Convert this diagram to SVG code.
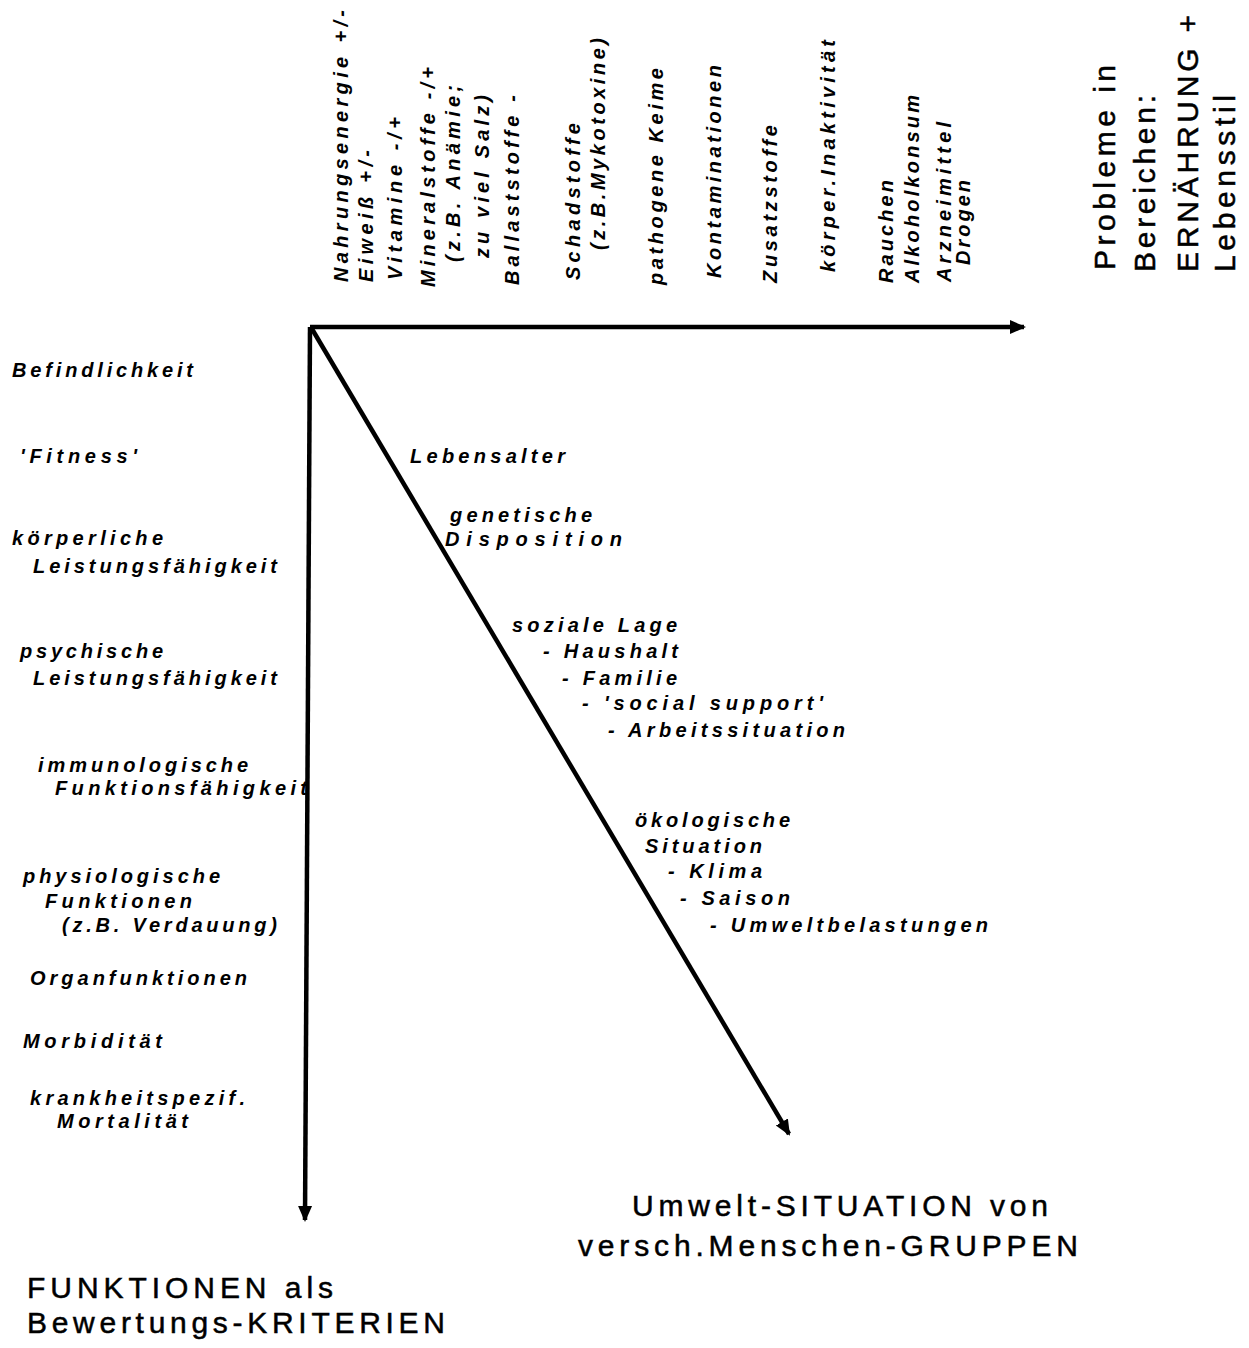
<svg xmlns="http://www.w3.org/2000/svg" width="1249" height="1348" viewBox="0 0 1249 1348">
<style>
.lab{font-family:"Liberation Sans",Arial,sans-serif;font-size:20px;font-weight:bold;font-style:italic;fill:#000}
.big{font-family:"Liberation Sans",Arial,sans-serif;font-size:30px;fill:#000;stroke:#000;stroke-width:0.5}
.ax{stroke:#000;stroke-width:4.5;fill:none}
</style>
<defs>
<marker id="ah" markerUnits="userSpaceOnUse" markerWidth="18" markerHeight="16" refX="14" refY="8" orient="auto">
<path d="M0,1 L16,8 L0,15 Z" fill="#000"/>
</marker>
</defs>
<rect width="1249" height="1348" fill="#fff"/>
<g id="connectors">
<line class="ax" x1="310" y1="327" x2="1024" y2="327" marker-end="url(#ah)"/>
<line class="ax" x1="310" y1="327" x2="305" y2="1220" marker-end="url(#ah)"/>
<line class="ax" x1="312" y1="329" x2="789" y2="1134" marker-end="url(#ah)"/>
</g>
<g id="top-labels" class="lab">
<text transform="translate(348,282) rotate(-90)" textLength="272" lengthAdjust="spacing">Nahrungsenergie +/-</text>
<text transform="translate(373,282) rotate(-90)" textLength="132" lengthAdjust="spacing">Eiweiß +/-</text>
<text transform="translate(402,280) rotate(-90)" textLength="163" lengthAdjust="spacing">Vitamine -/+</text>
<text transform="translate(435,287) rotate(-90)" textLength="220" lengthAdjust="spacing">Mineralstoffe -/+</text>
<text transform="translate(460,262) rotate(-90)" textLength="177" lengthAdjust="spacing">(z.B. Anämie;</text>
<text transform="translate(489,258) rotate(-90)" textLength="163" lengthAdjust="spacing">zu viel Salz)</text>
<text transform="translate(519,285) rotate(-90)" textLength="190" lengthAdjust="spacing">Ballaststoffe -</text>
<text transform="translate(580,280) rotate(-90)" textLength="157" lengthAdjust="spacing">Schadstoffe</text>
<text transform="translate(605,250) rotate(-90)" textLength="212" lengthAdjust="spacing">(z.B.Mykotoxine)</text>
<text transform="translate(663,285) rotate(-90)" textLength="217" lengthAdjust="spacing">pathogene Keime</text>
<text transform="translate(721,278) rotate(-90)" textLength="213" lengthAdjust="spacing">Kontaminationen</text>
<text transform="translate(777,283) rotate(-90)" textLength="158" lengthAdjust="spacing">Zusatzstoffe</text>
<text transform="translate(835,272) rotate(-90)" textLength="232" lengthAdjust="spacing">körper.Inaktivität</text>
<text transform="translate(893,283) rotate(-90)" textLength="103" lengthAdjust="spacing">Rauchen</text>
<text transform="translate(919,283) rotate(-90)" textLength="188" lengthAdjust="spacing">Alkoholkonsum</text>
<text transform="translate(951,282) rotate(-90)" textLength="160" lengthAdjust="spacing">Arzneimittel</text>
<text transform="translate(970,265) rotate(-90)" textLength="85" lengthAdjust="spacing">Drogen</text>
</g>
<g id="top-title" class="big">
<text transform="translate(1115,270) rotate(-90)" textLength="205" lengthAdjust="spacing">Probleme in</text>
<text transform="translate(1155,272) rotate(-90)" textLength="177" lengthAdjust="spacing">Bereichen:</text>
<text transform="translate(1198,272) rotate(-90)" textLength="257" lengthAdjust="spacing">ERNÄHRUNG +</text>
<text transform="translate(1235,272) rotate(-90)" textLength="177" lengthAdjust="spacing">Lebensstil</text>
</g>
<g id="left-labels" class="lab">
<text x="12" y="377" textLength="181" lengthAdjust="spacing">Befindlichkeit</text>
<text x="20" y="463" textLength="117" lengthAdjust="spacing">'Fitness'</text>
<text x="12" y="545" textLength="151" lengthAdjust="spacing">körperliche</text>
<text x="33" y="573" textLength="244" lengthAdjust="spacing">Leistungsfähigkeit</text>
<text x="20" y="658" textLength="143" lengthAdjust="spacing">psychische</text>
<text x="33" y="685" textLength="244" lengthAdjust="spacing">Leistungsfähigkeit</text>
<text x="38" y="772" textLength="210" lengthAdjust="spacing">immunologische</text>
<text x="55" y="795" textLength="252" lengthAdjust="spacing">Funktionsfähigkeit</text>
<text x="23" y="883" textLength="197" lengthAdjust="spacing">physiologische</text>
<text x="45" y="908" textLength="147" lengthAdjust="spacing">Funktionen</text>
<text x="62" y="932" textLength="215" lengthAdjust="spacing">(z.B. Verdauung)</text>
<text x="30" y="985" textLength="217" lengthAdjust="spacing">Organfunktionen</text>
<text x="23" y="1048" textLength="139" lengthAdjust="spacing">Morbidität</text>
<text x="30" y="1105" textLength="215" lengthAdjust="spacing">krankheitspezif.</text>
<text x="57" y="1128" textLength="131" lengthAdjust="spacing">Mortalität</text>
</g>
<g id="diagonal-labels" class="lab">
<text x="410" y="463" textLength="155" lengthAdjust="spacing">Lebensalter</text>
<text x="450" y="522" textLength="142" lengthAdjust="spacing">genetische</text>
<text x="445" y="546" textLength="177" lengthAdjust="spacing">Disposition</text>
<text x="512" y="632" textLength="165" lengthAdjust="spacing">soziale Lage</text>
<text x="543" y="658" textLength="135" lengthAdjust="spacing">- Haushalt</text>
<text x="562" y="685" textLength="115" lengthAdjust="spacing">- Familie</text>
<text x="582" y="710" textLength="241" lengthAdjust="spacing">- 'social support'</text>
<text x="608" y="737" textLength="237" lengthAdjust="spacing">- Arbeitssituation</text>
<text x="635" y="827" textLength="155" lengthAdjust="spacing">ökologische</text>
<text x="645" y="853" textLength="117" lengthAdjust="spacing">Situation</text>
<text x="668" y="878" textLength="94" lengthAdjust="spacing">- Klima</text>
<text x="680" y="905" textLength="110" lengthAdjust="spacing">- Saison</text>
<text x="710" y="932" textLength="278" lengthAdjust="spacing">- Umweltbelastungen</text>
</g>
<g id="diag-title" class="big">
<text x="632" y="1216" textLength="416" lengthAdjust="spacing">Umwelt-SITUATION von</text>
<text x="578" y="1256" textLength="500" lengthAdjust="spacing">versch.Menschen-GRUPPEN</text>
</g>
<g id="left-title" class="big">
<text x="27" y="1298" textLength="306" lengthAdjust="spacing">FUNKTIONEN als</text>
<text x="27" y="1333" textLength="418" lengthAdjust="spacing">Bewertungs-KRITERIEN</text>
</g>
</svg>
